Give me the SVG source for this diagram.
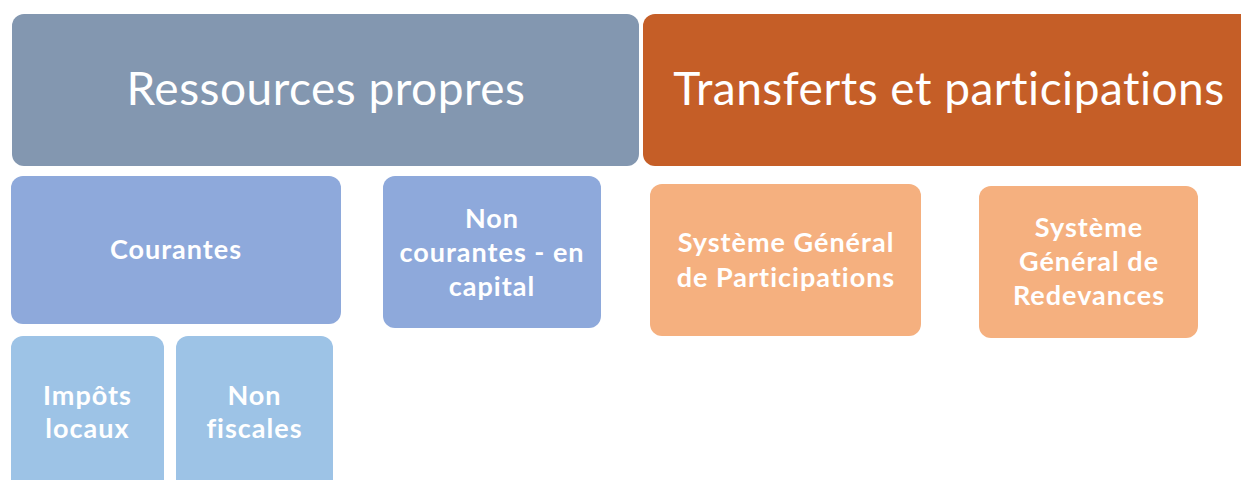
<svg xmlns="http://www.w3.org/2000/svg" width="1241" height="480" viewBox="0 0 1241 480">
<style>
.t{font-family:Lato,"Open Sans","Liberation Sans",sans-serif;fill:#fff;text-anchor:middle}
.big{font-size:46px;letter-spacing:0.5px}
.b{font-size:27px;font-weight:bold;letter-spacing:1px}
</style>
<rect width="1241" height="480" fill="#fff"/>
<g id="ressources">
<rect x="12" y="14" width="627" height="152" rx="12" fill="#8397B0"/>
<text class="t big" x="326" y="105">Ressources propres</text>
</g>
<g id="transferts">
<rect x="643" y="14" width="620" height="152" rx="12" fill="#C55E27"/>
<text class="t big" x="949" y="105">Transferts et participations</text>
</g>
<g id="courantes">
<rect x="11" y="176" width="330" height="148" rx="12" fill="#8EA9DB"/>
<text class="t b" x="176" y="259">Courantes</text>
</g>
<g id="noncourantes">
<rect x="383" y="176" width="218" height="152" rx="12" fill="#8EA9DB"/>
<text class="t b" x="492" y="228">Non</text>
<text class="t b" x="492" y="262">courantes - en</text>
<text class="t b" x="492" y="296">capital</text>
</g>
<g id="impots">
<rect x="11" y="336" width="153" height="160" rx="12" fill="#9DC3E6"/>
<text class="t b" x="87.5" y="405">Impôts</text>
<text class="t b" x="87.5" y="438">locaux</text>
</g>
<g id="nonfiscales">
<rect x="176" y="336" width="157" height="160" rx="12" fill="#9DC3E6"/>
<text class="t b" x="254.5" y="405">Non</text>
<text class="t b" x="254.5" y="438">fiscales</text>
</g>
<g id="sgp">
<rect x="650" y="184" width="271" height="152" rx="12" fill="#F5B07F"/>
<text class="t b" x="786" y="252">Système Général</text>
<text class="t b" x="786" y="287">de Participations</text>
</g>
<g id="sgr">
<rect x="979" y="186" width="219" height="152" rx="12" fill="#F5B07F"/>
<text class="t b" x="1089" y="237">Système</text>
<text class="t b" x="1089" y="271">Général de</text>
<text class="t b" x="1089" y="305">Redevances</text>
</g>
<g id="connectors"/>
</svg>
